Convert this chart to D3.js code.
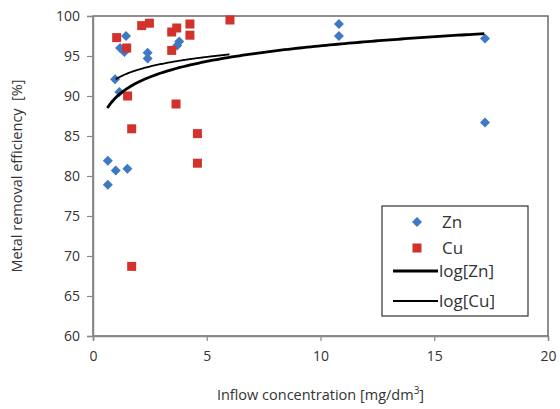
<!DOCTYPE html>
<html><head><meta charset="utf-8">
<script src="https://cdn.jsdelivr.net/npm/d3@7"></script>
<style>body{margin:0;background:#fff}svg{display:block}text{font-family:"Open Sans",sans-serif;fill:#333}</style>
</head><body>
<svg id="c" width="560" height="409"></svg>
<script>
const xTicks=[0,5,10,15,20];
const yTicks=[60,65,70,75,80,85,90,95,100];
const znX=[1.45,1.19,1.38,2.40,2.40,3.79,3.70,0.97,1.16,0.65,1.00,1.51,0.65,10.81,10.81,17.23,17.23];
const znY=[97.5,96.0,95.5,95.4,94.7,96.8,96.3,92.1,90.5,81.9,80.7,80.9,78.9,99.0,97.5,97.2,86.7];
const cuX=[1.04,1.48,2.14,2.48,3.46,3.68,4.26,4.26,6.02,3.46,1.52,3.65,1.70,4.59,4.59,1.70];
const cuY=[97.3,96.0,98.8,99.1,98.0,98.5,99.0,97.6,99.5,95.7,90.0,89.0,85.9,85.3,81.6,68.7];
// log trendlines y = a + b*ln(x): [a, b, xmin, xmax]
const trendZn=[89.8,2.81,0.63,17.2];
const trendCu=[92.1,1.73,1.0,6.0];
const legendLabels=["Zn","Cu","log[Zn]","log[Cu]"];

const svg=d3.select("#c");
const m={l:93,t:16,r:548,b:336};
const x=d3.scaleLinear().domain([0,20]).range([m.l,m.r]);
const y=d3.scaleLinear().domain([60,100]).range([m.b,m.t]);
const blue="#3f79c3", red="#d2322b";

svg.append("rect").attr("x",m.l).attr("y",m.t).attr("width",m.r-m.l).attr("height",m.b-m.t)
  .attr("fill","none").attr("stroke","#444").attr("stroke-width",1.2);

const ya=svg.append("g").attr("transform",`translate(${m.l},0)`)
  .call(d3.axisLeft(y).tickValues(yTicks).tickSize(6).tickPadding(7));
const xa=svg.append("g").attr("transform",`translate(0,${m.b})`)
  .call(d3.axisBottom(x).tickValues(xTicks).tickSize(5).tickPadding(10));
[ya,xa].forEach(g=>{g.select(".domain").attr("stroke","#888").attr("stroke-width",1.5);
  g.selectAll(".tick line").attr("stroke","#888").attr("stroke-width",1.2);
  g.selectAll(".tick text").style("font-size","14px").attr("fill","#333");});

function trend(t){return d3.range(0,101).map(i=>{const xv=t[2]+(t[3]-t[2])*i/100;return [xv,t[0]+t[1]*Math.log(xv)];});}
const line=d3.line().x(d=>x(d[0])).y(d=>y(d[1]));

svg.append("g").selectAll("path").data(znX.map((v,i)=>[v,znY[i]])).join("path")
  .attr("d",d3.symbol().type(d3.symbolSquare).size(50))
  .attr("transform",d=>`translate(${x(d[0])},${y(d[1])}) rotate(45)`).attr("fill",blue);
svg.append("g").selectAll("rect").data(cuX.map((v,i)=>[v,cuY[i]])).join("rect")
  .attr("x",d=>x(d[0])-4.5).attr("y",d=>y(d[1])-4.5).attr("width",9).attr("height",9).attr("fill",red);

svg.append("path").datum(trend(trendZn)).attr("d",line).attr("fill","none").attr("stroke","#000").attr("stroke-width",2.8);
svg.append("path").datum(trend(trendCu)).attr("d",line).attr("fill","none").attr("stroke","#000").attr("stroke-width",1.8);

const xt=svg.append("text").attr("x",(m.l+m.r)/2).attr("y",400).attr("text-anchor","middle").style("font-size","14.5px");
xt.append("tspan").text("Inflow concentration [mg/dm");
xt.append("tspan").attr("dy",-6).style("font-size","10px").text("3");
xt.append("tspan").attr("dy",6).text("]");
svg.append("text").attr("transform",`translate(22,${(m.t+m.b)/2}) rotate(-90)`).attr("text-anchor","middle")
  .style("font-size","14.5px").attr("xml:space","preserve").text("Metal removal efficiency  [%]");

const lg=svg.append("g");
lg.append("rect").attr("x",382).attr("y",206).attr("width",146).attr("height",110).attr("fill","#fff").attr("stroke","#333").attr("stroke-width",1.2);
const rows=[222,248,271,301];
lg.append("path").attr("d",d3.symbol().type(d3.symbolSquare).size(50)).attr("transform",`translate(417,${rows[0]}) rotate(45)`).attr("fill",blue);
lg.append("rect").attr("x",412.5).attr("y",rows[1]-4.5).attr("width",9).attr("height",9).attr("fill",red);
lg.append("line").attr("x1",393).attr("x2",438).attr("y1",rows[2]).attr("y2",rows[2]).attr("stroke","#000").attr("stroke-width",2.8);
lg.append("line").attr("x1",393).attr("x2",438).attr("y1",rows[3]).attr("y2",rows[3]).attr("stroke","#000").attr("stroke-width",1.8);
legendLabels.forEach((t,i)=>lg.append("text").attr("x",i<2?442:439).attr("y",rows[i]+6).style("font-size","17px").text(t));
</script>
</body></html>
